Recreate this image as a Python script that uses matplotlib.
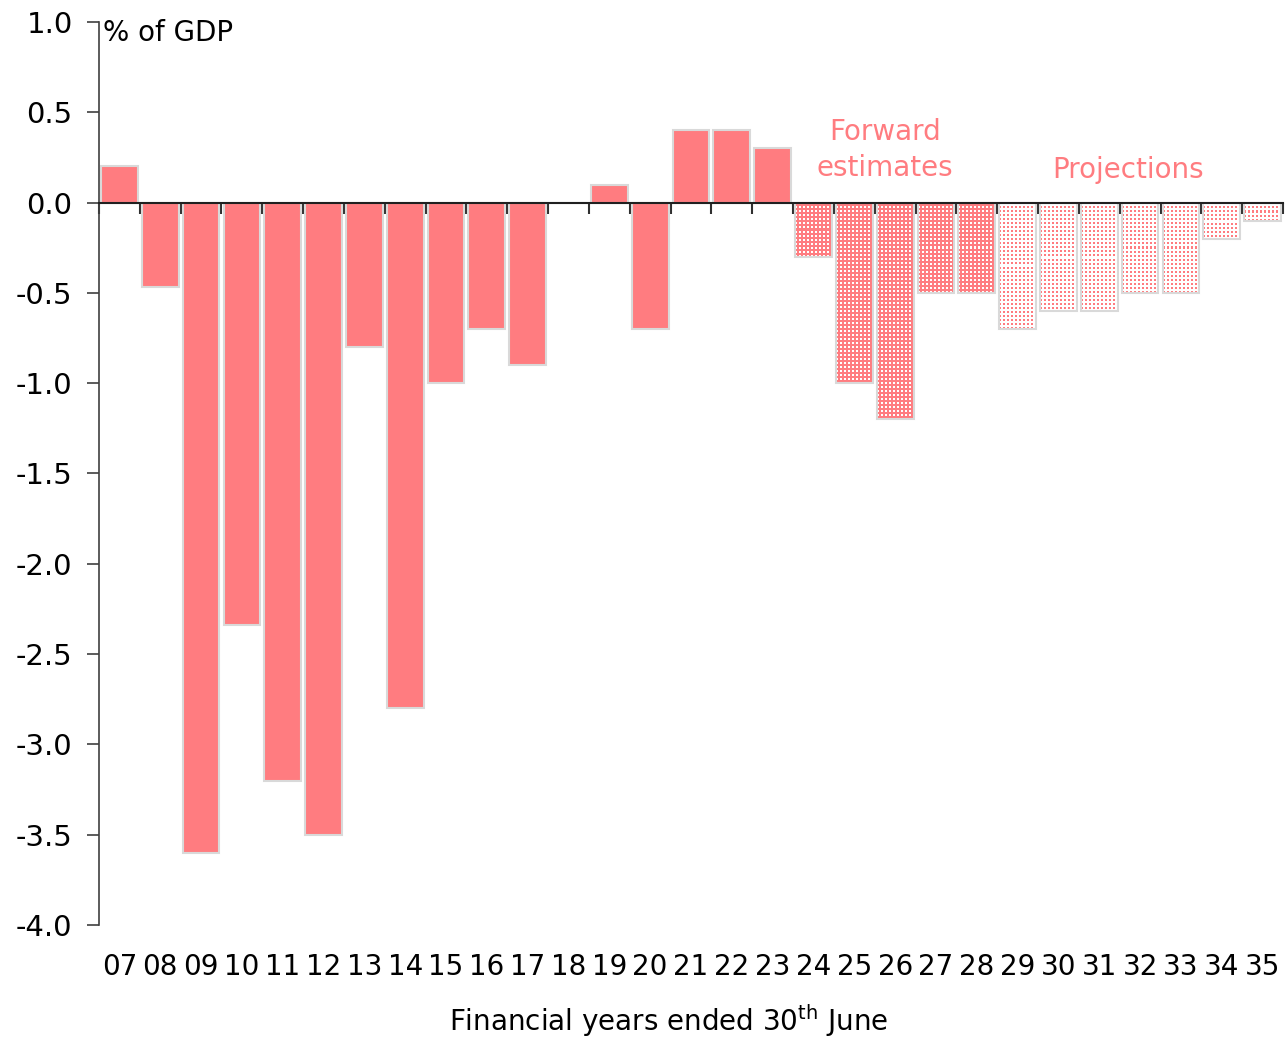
import numpy as np
import matplotlib
matplotlib.use("Agg")
import matplotlib.pyplot as plt
from matplotlib.transforms import blended_transform_factory

# Budget balance, % of GDP, financial years ended 30 June
years = ['07', '08', '09', '10', '11', '12', '13', '14', '15', '16', '17', '18',
         '19', '20', '21', '22', '23', '24', '25', '26', '27', '28', '29', '30',
         '31', '32', '33', '34', '35']
actual = [0.2, -0.47, -3.6, -2.34, -3.2, -3.5, -0.8, -2.8, -1.0, -0.7, -0.9, 0.0,
          0.1, -0.7, 0.4, 0.4, 0.3]
forward = [-0.3, -1.0, -1.2, -0.5, -0.5]
projected = [-0.7, -0.6, -0.6, -0.5, -0.5, -0.2, -0.1]

PINK = '#ff7c80'
EDGE = '#d9d9d9'
plt.rcParams['font.family'] = 'DejaVu Sans'

fig = plt.figure(figsize=(12.87, 10.39), dpi=100)
ax = fig.add_axes([99 / 1287, 1 - 925 / 1039, (1283 - 99) / 1287, (925 - 22) / 1039])

x = np.arange(len(years))
n1, n2 = len(actual), len(forward)
xa, xf, xp = x[:n1], x[n1:n1 + n2], x[n1 + n2:]
w = 0.9
YMIN, YMAX = -4.0, 1.0

# pixels per data unit, used to size the dot textures
pos = ax.get_position()
px_x = pos.width * fig.get_figwidth() * fig.dpi / len(years)
px_y = pos.height * fig.get_figheight() * fig.dpi / (YMAX - YMIN)

pink_rgb = np.array(matplotlib.colors.to_rgb(PINK))
white_rgb = np.ones(3)


def texture(nx, ny, base, dot):
    img = np.empty((ny, nx, 3))
    img[:] = base
    jj, ii = np.meshgrid(np.arange(nx), np.arange(ny))
    img[(ii % 4 < 2) & (jj % 4 < 2)] = dot
    return img


def dotted_bars(xs, vals, base, dot):
    bars = ax.bar(xs, vals, width=w, color=matplotlib.colors.to_hex(base),
                  linewidth=0, zorder=2)
    for b, xc, v in zip(bars, xs, vals):
        nx = int(round(w * px_x))
        ny = max(int(round(abs(v) * px_y)), 1)
        im = ax.imshow(texture(nx, ny, base, dot), extent=(xc - w / 2, xc + w / 2, v, 0),
                       interpolation='nearest', aspect='auto', zorder=3)
        im.set_clip_path(b)
    ax.bar(xs, vals, width=w, fill=False, edgecolor=EDGE, linewidth=1.5, zorder=4)


ax.bar(xa, actual, width=w, color=PINK, edgecolor=EDGE, linewidth=1.5, zorder=2)
# forward estimates: pink with white dots
dotted_bars(xf, forward, pink_rgb, white_rgb)
# projections: white with pink dots
dotted_bars(xp, projected, white_rgb, pink_rgb)

ax.set_xlim(-0.5, len(years) - 0.5)
ax.set_ylim(YMIN, YMAX)

yt = np.arange(-4.0, 1.01, 0.5)
ax.set_yticks(yt)
ax.set_yticklabels(['{:.1f}'.format(v) for v in yt], fontsize=21)
ax.tick_params(axis='y', direction='out', length=9, width=1.2, color='#404040', pad=10)

ax.spines['bottom'].set_position(('data', 0))
ax.spines['top'].set_visible(False)
ax.spines['right'].set_visible(False)
ax.spines['left'].set_color('#404040')
ax.spines['bottom'].set_color('#202020')
ax.spines['left'].set_linewidth(1.2)
ax.spines['bottom'].set_linewidth(1.5)
ax.spines['bottom'].set_zorder(5)

ax.set_xticks(np.arange(-0.5, len(years), 1.0))
ax.set_xticklabels([])
ax.tick_params(axis='x', direction='out', length=8, width=1.5, color='#303030')

tr = blended_transform_factory(ax.transData, ax.transAxes)
for xi, lab in zip(x, years):
    ax.text(xi, -0.047, lab, transform=tr, ha='center', va='center', fontsize=20)

ax.text(0.003, 0.988, '% of GDP', transform=ax.transAxes, ha='left', va='center',
        fontsize=20)
ax.text(18.75, 0.39, 'Forward', ha='center', va='center', fontsize=20, color=PINK)
ax.text(18.75, 0.19, 'estimates', ha='center', va='center', fontsize=20, color=PINK)
ax.text(24.7, 0.18, 'Projections', ha='center', va='center', fontsize=20, color=PINK)

fig.text(669 / 1287, 1 - 1021 / 1039, 'Financial years ended 30$^{\\mathrm{th}}$ June',
         ha='center', va='center', fontsize=20)

fig.savefig('out.png', dpi=100)
